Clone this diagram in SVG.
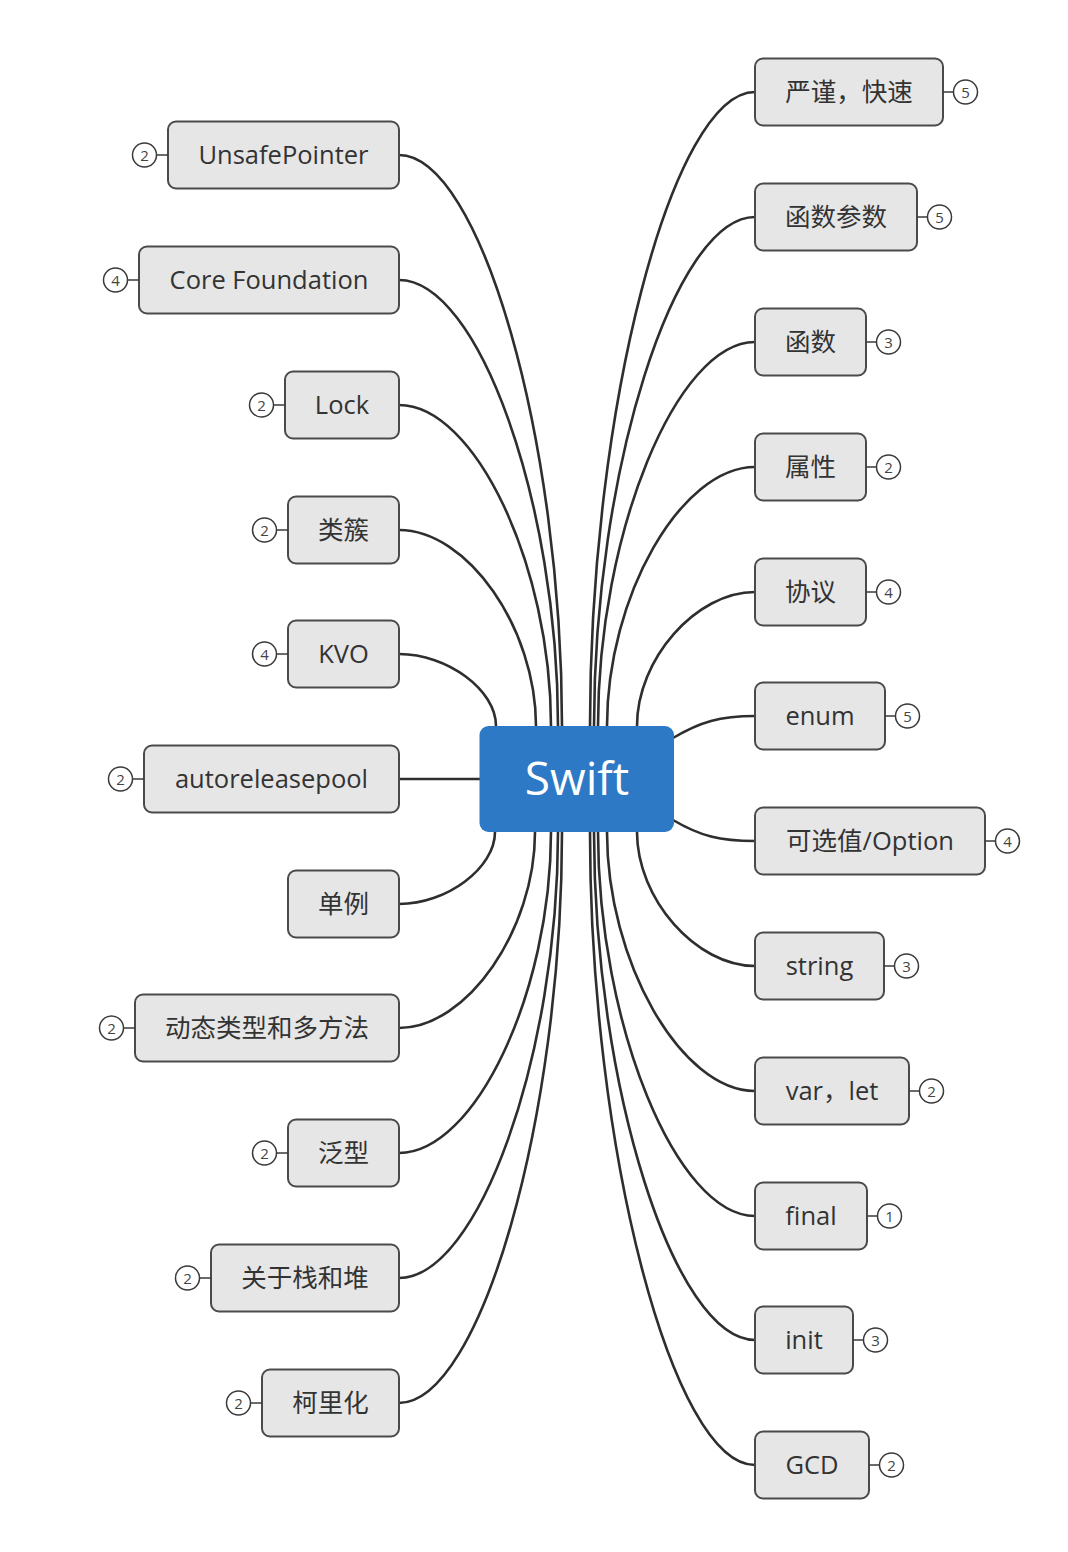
<svg xmlns="http://www.w3.org/2000/svg" width="1068" height="1552" viewBox="0 0 1068 1552">
<style>
.box{fill:#e6e6e6;stroke:#4a4a4a;stroke-width:2}
.t{font-family:"Open Sans","Noto Sans CJK SC",sans-serif;font-size:25.5px;fill:#333;text-anchor:middle}
.b{fill:#fff;stroke:#3a3a3a;stroke-width:1.5}
.bl{stroke:#3a3a3a;stroke-width:1.5}
.bt{font-family:"Open Sans",sans-serif;font-size:15px;fill:#444;text-anchor:middle}
.c{fill:none;stroke:#2e2e2e;stroke-width:2.6}
</style>
<rect width="1068" height="1552" fill="#fff"/>
<g id="connectors">
<path class="c" d="M399 155 C480.5 155,562 440.5,562 726"/>
<path class="c" d="M399 280 C478.5 280,558 503,558 726"/>
<path class="c" d="M399 405 C475 405,551 565.5,551 726"/>
<path class="c" d="M399 530 C467.5 530,536 628,536 726"/>
<path class="c" d="M399 654 C447.5 654,496 690,496 726"/>
<path class="c" d="M399 779 L480 779"/>
<path class="c" d="M495 832 C495 868,447 904,399 904"/>
<path class="c" d="M535 832 C535 930,467 1028,399 1028"/>
<path class="c" d="M551 832 C551 992.5,475 1153,399 1153"/>
<path class="c" d="M558 832 C558 1055,478.5 1278,399 1278"/>
<path class="c" d="M562 832 C562 1117.5,480.5 1403,399 1403"/>
<path class="c" d="M590 726 C590 409,672.5 92,755 92"/>
<path class="c" d="M594 726 C594 471.5,674.5 217,755 217"/>
<path class="c" d="M598 726 C598 534,676.5 342,755 342"/>
<path class="c" d="M607 726 C607 596.5,681 467,755 467"/>
<path class="c" d="M637 726 C637 659,696 592,755 592"/>
<path class="c" d="M673 738 C700 722,720 716,755 716"/>
<path class="c" d="M673 820 C700 836,720 841,755 841"/>
<path class="c" d="M637 832 C637 899,696 966,755 966"/>
<path class="c" d="M607 832 C607 961.5,681 1091,755 1091"/>
<path class="c" d="M598 832 C598 1024,676.5 1216,755 1216"/>
<path class="c" d="M594 832 C594 1086,674.5 1340,755 1340"/>
<path class="c" d="M590 832 C590 1148.5,672.5 1465,755 1465"/>
</g>
<g id="center">
<rect x="479.5" y="726" width="194.5" height="106" rx="9" fill="#2d79c5"/>
<text x="577" y="795" font-family="Open Sans,sans-serif" font-size="46" fill="#fff" text-anchor="middle">Swift</text>
</g>
<g id="n-unsafe">
<rect class="box" x="168" y="121.5" width="231" height="67" rx="8"/>
<text class="t" x="283.5" y="164">UnsafePointer</text>
<line class="bl" x1="156.5" y1="155" x2="168" y2="155"/><circle class="b" cx="144.5" cy="155" r="12"/><text class="bt" x="144.5" y="160.5">2</text>
</g>
<g id="n-core">
<rect class="box" x="139" y="246.5" width="260" height="67" rx="8"/>
<text class="t" x="269" y="289">Core Foundation</text>
<line class="bl" x1="127.5" y1="280" x2="139" y2="280"/><circle class="b" cx="115.5" cy="280" r="12"/><text class="bt" x="115.5" y="285.5">4</text>
</g>
<g id="n-lock">
<rect class="box" x="285" y="371.5" width="114" height="67" rx="8"/>
<text class="t" x="342" y="414">Lock</text>
<line class="bl" x1="273.5" y1="405" x2="285" y2="405"/><circle class="b" cx="261.5" cy="405" r="12"/><text class="bt" x="261.5" y="410.5">2</text>
</g>
<g id="n-leicu">
<rect class="box" x="288" y="496.5" width="111" height="67" rx="8"/>
<text class="t" x="343.5" y="539">类簇</text>
<line class="bl" x1="276.5" y1="530" x2="288" y2="530"/><circle class="b" cx="264.5" cy="530" r="12"/><text class="bt" x="264.5" y="535.5">2</text>
</g>
<g id="n-kvo">
<rect class="box" x="288" y="620.5" width="111" height="67" rx="8"/>
<text class="t" x="343.5" y="663">KVO</text>
<line class="bl" x1="276.5" y1="654" x2="288" y2="654"/><circle class="b" cx="264.5" cy="654" r="12"/><text class="bt" x="264.5" y="659.5">4</text>
</g>
<g id="n-autorelease">
<rect class="box" x="144" y="745.5" width="255" height="67" rx="8"/>
<text class="t" x="271.5" y="788">autoreleasepool</text>
<line class="bl" x1="132.5" y1="779" x2="144" y2="779"/><circle class="b" cx="120.5" cy="779" r="12"/><text class="bt" x="120.5" y="784.5">2</text>
</g>
<g id="n-danli">
<rect class="box" x="288" y="870.5" width="111" height="67" rx="8"/>
<text class="t" x="343.5" y="913">单例</text>
</g>
<g id="n-dongtai">
<rect class="box" x="135" y="994.5" width="264" height="67" rx="8"/>
<text class="t" x="267" y="1037">动态类型和多方法</text>
<line class="bl" x1="123.5" y1="1028" x2="135" y2="1028"/><circle class="b" cx="111.5" cy="1028" r="12"/><text class="bt" x="111.5" y="1033.5">2</text>
</g>
<g id="n-fanxing">
<rect class="box" x="288" y="1119.5" width="111" height="67" rx="8"/>
<text class="t" x="343.5" y="1162">泛型</text>
<line class="bl" x1="276.5" y1="1153" x2="288" y2="1153"/><circle class="b" cx="264.5" cy="1153" r="12"/><text class="bt" x="264.5" y="1158.5">2</text>
</g>
<g id="n-zhandui">
<rect class="box" x="211" y="1244.5" width="188" height="67" rx="8"/>
<text class="t" x="305" y="1287">关于栈和堆</text>
<line class="bl" x1="199.5" y1="1278" x2="211" y2="1278"/><circle class="b" cx="187.5" cy="1278" r="12"/><text class="bt" x="187.5" y="1283.5">2</text>
</g>
<g id="n-kelihua">
<rect class="box" x="262" y="1369.5" width="137" height="67" rx="8"/>
<text class="t" x="330.5" y="1412">柯里化</text>
<line class="bl" x1="250.5" y1="1403" x2="262" y2="1403"/><circle class="b" cx="238.5" cy="1403" r="12"/><text class="bt" x="238.5" y="1408.5">2</text>
</g>
<g id="n-yanjin">
<rect class="box" x="755" y="58.5" width="188" height="67" rx="8"/>
<text class="t" x="849" y="101">严谨，快速</text>
<line class="bl" x1="943" y1="92" x2="953.5" y2="92"/><circle class="b" cx="965.5" cy="92" r="12"/><text class="bt" x="965.5" y="97.5">5</text>
</g>
<g id="n-hanshucanshu">
<rect class="box" x="755" y="183.5" width="162" height="67" rx="8"/>
<text class="t" x="836" y="226">函数参数</text>
<line class="bl" x1="917" y1="217" x2="927.5" y2="217"/><circle class="b" cx="939.5" cy="217" r="12"/><text class="bt" x="939.5" y="222.5">5</text>
</g>
<g id="n-hanshu">
<rect class="box" x="755" y="308.5" width="111" height="67" rx="8"/>
<text class="t" x="810.5" y="351">函数</text>
<line class="bl" x1="866" y1="342" x2="876.5" y2="342"/><circle class="b" cx="888.5" cy="342" r="12"/><text class="bt" x="888.5" y="347.5">3</text>
</g>
<g id="n-shuxing">
<rect class="box" x="755" y="433.5" width="111" height="67" rx="8"/>
<text class="t" x="810.5" y="476">属性</text>
<line class="bl" x1="866" y1="467" x2="876.5" y2="467"/><circle class="b" cx="888.5" cy="467" r="12"/><text class="bt" x="888.5" y="472.5">2</text>
</g>
<g id="n-xieyi">
<rect class="box" x="755" y="558.5" width="111" height="67" rx="8"/>
<text class="t" x="810.5" y="601">协议</text>
<line class="bl" x1="866" y1="592" x2="876.5" y2="592"/><circle class="b" cx="888.5" cy="592" r="12"/><text class="bt" x="888.5" y="597.5">4</text>
</g>
<g id="n-enum">
<rect class="box" x="755" y="682.5" width="130" height="67" rx="8"/>
<text class="t" x="820" y="725">enum</text>
<line class="bl" x1="885" y1="716" x2="895.5" y2="716"/><circle class="b" cx="907.5" cy="716" r="12"/><text class="bt" x="907.5" y="721.5">5</text>
</g>
<g id="n-option">
<rect class="box" x="755" y="807.5" width="230" height="67" rx="8"/>
<text class="t" x="870" y="850">可选值/Option</text>
<line class="bl" x1="985" y1="841" x2="995.5" y2="841"/><circle class="b" cx="1007.5" cy="841" r="12"/><text class="bt" x="1007.5" y="846.5">4</text>
</g>
<g id="n-string">
<rect class="box" x="755" y="932.5" width="129" height="67" rx="8"/>
<text class="t" x="819.5" y="975">string</text>
<line class="bl" x1="884" y1="966" x2="894.5" y2="966"/><circle class="b" cx="906.5" cy="966" r="12"/><text class="bt" x="906.5" y="971.5">3</text>
</g>
<g id="n-varlet">
<rect class="box" x="755" y="1057.5" width="154" height="67" rx="8"/>
<text class="t" x="832" y="1100">var，let</text>
<line class="bl" x1="909" y1="1091" x2="919.5" y2="1091"/><circle class="b" cx="931.5" cy="1091" r="12"/><text class="bt" x="931.5" y="1096.5">2</text>
</g>
<g id="n-final">
<rect class="box" x="755" y="1182.5" width="112" height="67" rx="8"/>
<text class="t" x="811" y="1225">final</text>
<line class="bl" x1="867" y1="1216" x2="877.5" y2="1216"/><circle class="b" cx="889.5" cy="1216" r="12"/><text class="bt" x="889.5" y="1221.5">1</text>
</g>
<g id="n-init">
<rect class="box" x="755" y="1306.5" width="98" height="67" rx="8"/>
<text class="t" x="804" y="1349">init</text>
<line class="bl" x1="853" y1="1340" x2="863.5" y2="1340"/><circle class="b" cx="875.5" cy="1340" r="12"/><text class="bt" x="875.5" y="1345.5">3</text>
</g>
<g id="n-gcd">
<rect class="box" x="755" y="1431.5" width="114" height="67" rx="8"/>
<text class="t" x="812" y="1474">GCD</text>
<line class="bl" x1="869" y1="1465" x2="879.5" y2="1465"/><circle class="b" cx="891.5" cy="1465" r="12"/><text class="bt" x="891.5" y="1470.5">2</text>
</g>
</svg>
